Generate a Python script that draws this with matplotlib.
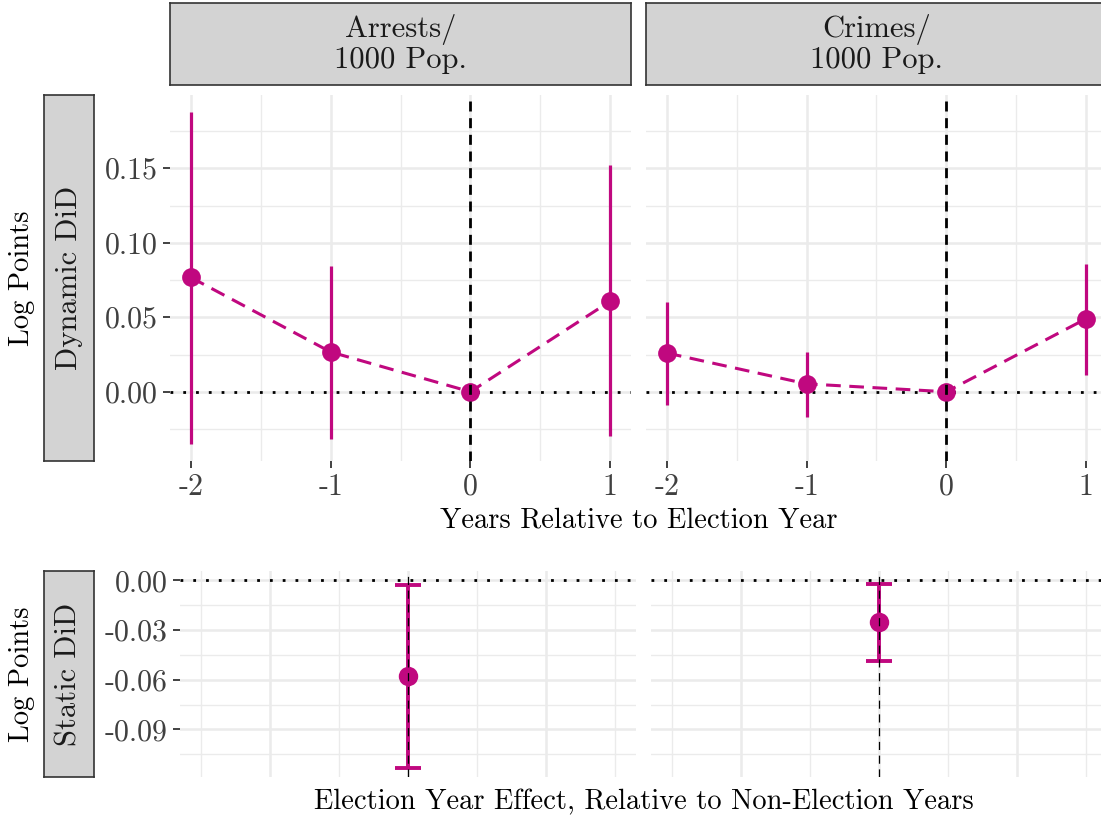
import numpy as np
import matplotlib
matplotlib.use("Agg")
import matplotlib.pyplot as plt

W, H = 1101, 821
MAG = "#C0087F"
GRID = "#EBEBEB"

# --- data ---
years = [-2, -1, 0, 1]
outcomes = ["Arrests/\n1000 Pop.", "Crimes/\n1000 Pop."]

arrests_est = [0.0767, 0.0267, 0.0, 0.0607]
arrests_lo = [-0.0353, -0.0320, 0.0, -0.0300]
arrests_hi = [0.1880, 0.0847, 0.0, 0.1520]

crimes_est = [0.0260, 0.0053, 0.0, 0.0490]
crimes_lo = [-0.0087, -0.0167, 0.0, 0.0113]
crimes_hi = [0.0600, 0.0267, 0.0, 0.0860]

static_est = [-0.0578, -0.0252]
static_lo = [-0.1131, -0.0485]
static_hi = [-0.0030, -0.0020]

dyn_yticks = [0.00, 0.05, 0.10, 0.15]
dyn_yminor = [-0.025, 0.025, 0.075, 0.125, 0.175]
dyn_ylabels = ["0.00", "0.05", "0.10", "0.15"]
year_labels = ["-2", "-1", "0", "1"]

stat_yticks = [-0.09, -0.06, -0.03, 0.00]
stat_yminor = [-0.105, -0.075, -0.045, -0.015]
stat_ylabels = ["-0.09", "-0.06", "-0.03", "0.00"]

plt.rcParams["font.family"] = "cmr10"
plt.rcParams["axes.unicode_minus"] = False
plt.rcParams["axes.formatter.use_mathtext"] = True


def box(x0, y0, x1, y1):
    """pixel box (top-left origin) -> figure fraction rect"""
    return [x0 / W, 1 - y1 / H, (x1 - x0) / W, (y1 - y0) / H]


def expand(lo, hi, f=0.05):
    r = hi - lo
    return lo - f * r, hi + f * r


def style_panel(ax):
    for s in ax.spines.values():
        s.set_visible(False)
    ax.grid(which="major", color=GRID, lw=1.8)
    ax.grid(which="minor", color=GRID, lw=1.0)
    ax.set_axisbelow(True)
    ax.tick_params(which="minor", length=0)
    ax.tick_params(which="major", length=5, width=1.3, color="#333333",
                   labelsize=21.5, labelcolor="#404040", pad=4)


def strip(rect, label, rotation=0):
    ax = fig.add_axes(rect)
    ax.set_facecolor("#D3D3D3")
    ax.set_xticks([])
    ax.set_yticks([])
    for s in ax.spines.values():
        s.set_color("#333333")
        s.set_linewidth(1.2)
    ax.text(0.5, 0.5, label, transform=ax.transAxes, ha="center",
            va="center", fontsize=22, color="#1A1A1A", rotation=rotation,
            linespacing=1.1)
    return ax


fig = plt.figure(figsize=(W / 100, H / 100), dpi=100)

# --- dynamic DiD row ---
dyn_lo = min(min(arrests_lo), min(crimes_lo))
dyn_hi = max(max(arrests_hi), max(crimes_hi))
dyn_ylim = expand(dyn_lo, dyn_hi)
xlim_top = expand(min(years), max(years))

series = [(arrests_est, arrests_lo, arrests_hi),
          (crimes_est, crimes_lo, crimes_hi)]
top_x = [(170, 631), (646, 1107)]

for i, ((est, lo, hi), (x0, x1)) in enumerate(zip(series, top_x)):
    ax = fig.add_axes(box(x0, 95, x1, 461))
    style_panel(ax)
    ax.set_xlim(*xlim_top)
    ax.set_ylim(*dyn_ylim)
    ax.set_xticks(years)
    ax.set_xticklabels(year_labels)
    ax.set_xticks([-1.5, -0.5, 0.5], minor=True)
    ax.set_yticks(dyn_yticks)
    ax.set_yticks(dyn_yminor, minor=True)
    if i == 0:
        ax.set_yticklabels(dyn_ylabels)
    else:
        ax.set_yticklabels([])
        ax.tick_params(axis="y", which="major", length=0)
    ax.axhline(0, color="black", lw=2.0, dashes=(1.0, 3.6), zorder=2)
    ax.vlines(years, lo, hi, color=MAG, lw=2.3, zorder=3)
    ax.plot(years, est, color=MAG, lw=2.2, dashes=(4.8, 2.8), zorder=3)
    ax.plot(years, est, "o", ms=13.5, mew=0, color=MAG, zorder=4)
    ax.axvline(0, color="black", lw=2.0, dashes=(3.6, 2.4), zorder=5)
    strip(box(x0, 3, x1, 85), outcomes[i])

strip(box(44, 95, 94, 461), "Dynamic DiD", rotation=90)

# --- static DiD row ---
stat_ylim = expand(min(min(static_lo), 0.0), max(max(static_hi), 0.0))
bot_x = [(180, 636), (651, 1107)]

for i, (x0, x1) in enumerate(bot_x):
    ax = fig.add_axes(box(x0, 571, x1, 777))
    style_panel(ax)
    ax.set_xlim(-3.3, 3.3)
    ax.set_ylim(*stat_ylim)
    ax.set_xticks([-2, 0, 2])
    ax.set_xticks([-3, -1, 1, 3], minor=True)
    ax.set_xticklabels([])
    ax.tick_params(axis="x", which="major", length=0)
    ax.set_yticks(stat_yticks)
    ax.set_yticks(stat_yminor, minor=True)
    if i == 0:
        ax.set_yticklabels(stat_ylabels)
    else:
        ax.set_yticklabels([])
        ax.tick_params(axis="y", which="major", length=0)
    est = static_est[i]
    ax.axhline(0, color="black", lw=2.0, dashes=(1.0, 3.6), zorder=2)
    ax.errorbar([0], [est], yerr=[[est - static_lo[i]], [static_hi[i] - est]],
                fmt="none", ecolor=MAG, elinewidth=2.8,
                capsize=9.7, capthick=2.8, zorder=3)
    ax.plot([0], [est], "o", ms=14, mew=0, color=MAG, zorder=4)
    ax.axvline(0, color="black", lw=0.9, dashes=(6.5, 4.5), zorder=5)

strip(box(44, 571, 94, 777), "Static DiD", rotation=90)

# --- axis titles ---
fig.text(638.5 / W, 1 - 520 / H, "Years Relative to Election Year",
         ha="center", va="center", fontsize=20.5)
fig.text(643.5 / W, 1 - 802 / H,
         "Election Year Effect, Relative to Non-Election Years",
         ha="center", va="center", fontsize=20.5)
fig.text(22 / W, 1 - 278 / H, "Log Points", rotation=90,
         ha="center", va="center", fontsize=20.5)
fig.text(22 / W, 1 - 674 / H, "Log Points", rotation=90,
         ha="center", va="center", fontsize=20.5)

fig.savefig("out.png", dpi=100)
